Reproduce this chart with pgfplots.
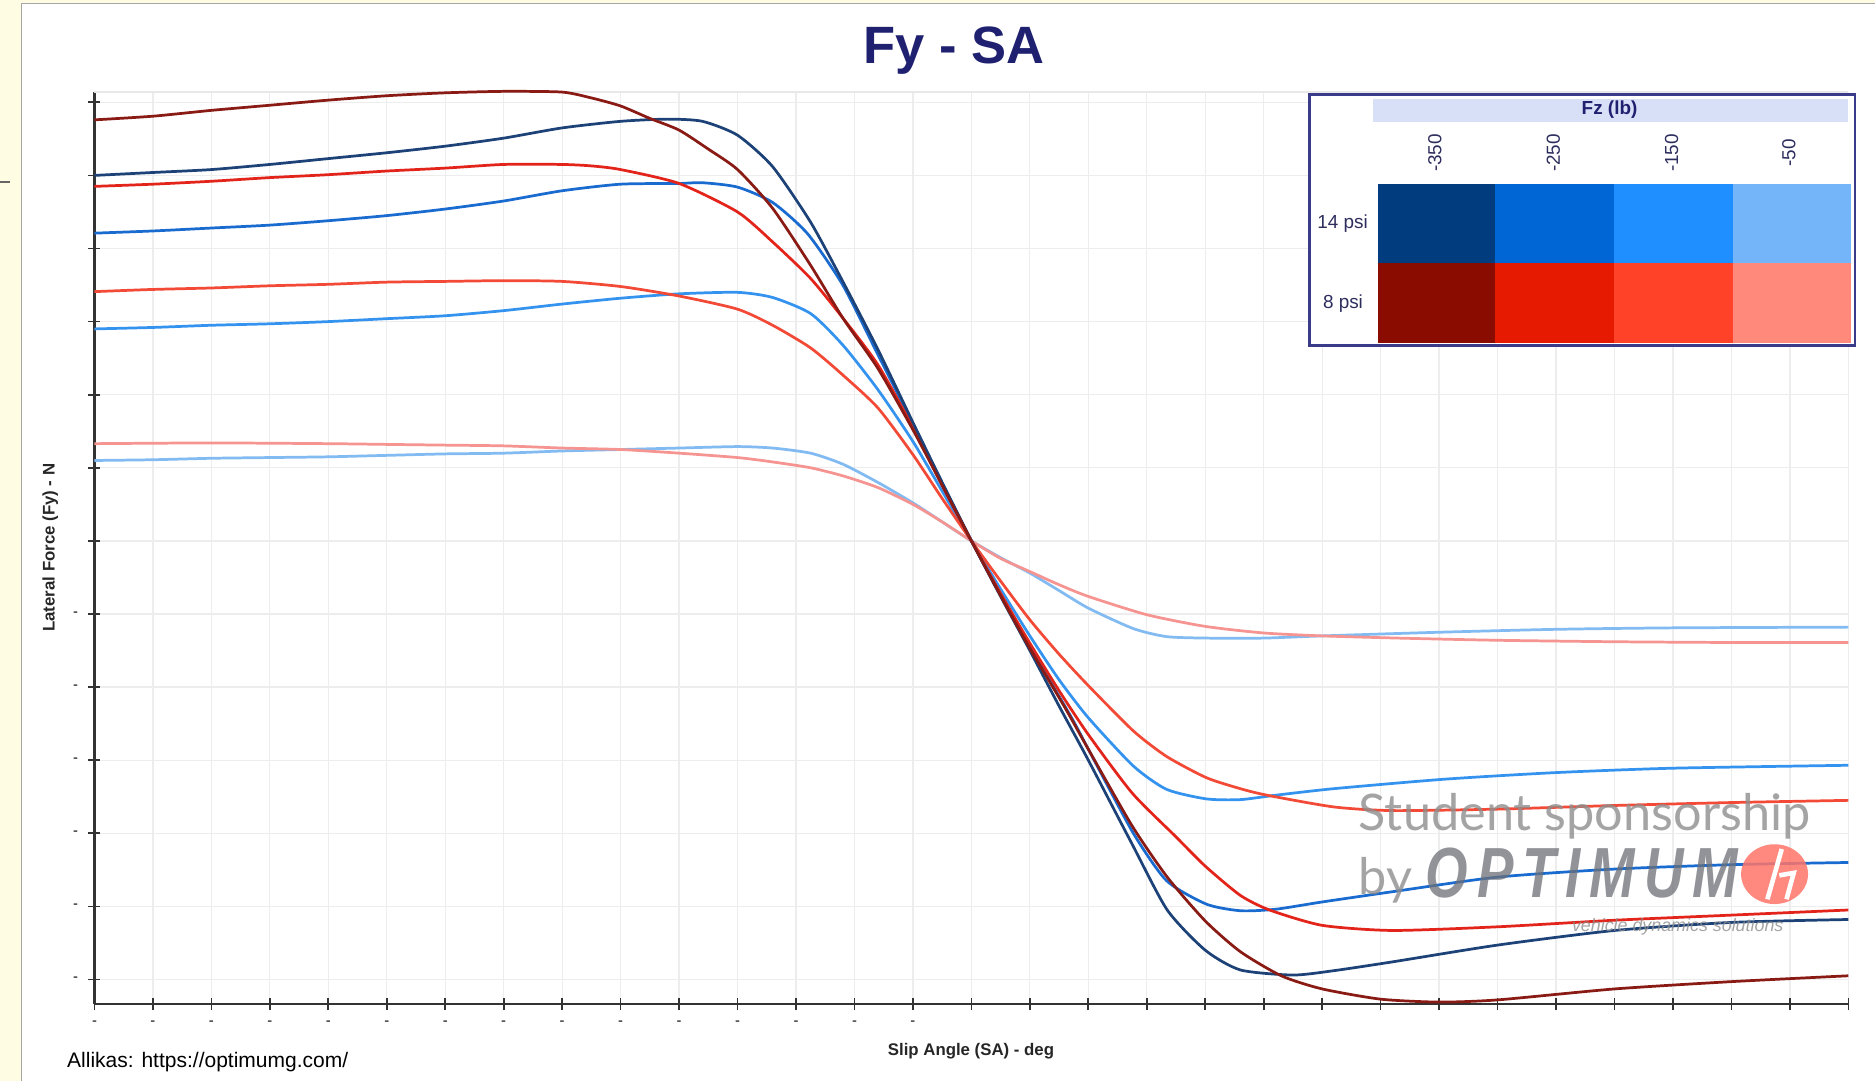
\documentclass[border=0pt]{standalone}
\usepackage{pgfplots}
\pgfplotsset{compat=1.18}
\usepackage{fontspec}
\setmainfont{Liberation Sans}
\newfontfamily\latofont{Lato}
\definecolor{bgyellow}{HTML}{FEFDE4}
\definecolor{titleblue}{HTML}{1F2170}
\definecolor{labelnavy}{HTML}{2E2E5E}
\definecolor{legborder}{HTML}{3B3B8C}
\definecolor{headfill}{HTML}{D8E0F7}
\definecolor{cA}{HTML}{003C7E}
\definecolor{cB}{HTML}{0066D5}
\definecolor{cC}{HTML}{1F8FFF}
\definecolor{cD}{HTML}{73B5F8}
\definecolor{rA}{HTML}{8A0C00}
\definecolor{rB}{HTML}{E61A00}
\definecolor{rC}{HTML}{FF4228}
\definecolor{rD}{HTML}{FF8A7C}
\definecolor{lA}{HTML}{1C4277}
\definecolor{lB}{HTML}{1A6BCF}
\definecolor{lC}{HTML}{3593F0}
\definecolor{lD}{HTML}{82BAF2}
\definecolor{lrA}{HTML}{8A1A14}
\definecolor{lrB}{HTML}{E3241A}
\definecolor{lrC}{HTML}{F24A36}
\definecolor{lrD}{HTML}{F59490}
\definecolor{wmgray}{HTML}{8E8E8E}
\definecolor{wmdark}{HTML}{6E7078}
\begin{document}
\begin{tikzpicture}[x=0.02cm,y=-0.02cm]
\useasboundingbox (0,0) rectangle (1568,904);
\fill[bgyellow] (0,0) rectangle (1568,904);
\fill[white] (18,3) rectangle (1568,904);
\draw[gray!70, line width=0.8pt] (18,904) -- (18,3) -- (1568,3);
\draw[gray!80!black, line width=0.8pt] (0,152) -- (8,152);
\node[font=\bfseries\fontsize{25}{30}\selectfont, text=titleblue] at (798,42) {Fy - SA};
\begin{axis}[
  at={(1.58cm,-16.8cm)}, anchor=south west,
  width=29.34cm, height=15.26cm, scale only axis,
  xmin=-15, xmax=15, ymin=-6.34, ymax=6.14,
  axis x line*=bottom, axis y line*=left,
  axis line style={black!80, line width=1pt},
  xtick={-15,...,15}, ytick={-6,...,6},
  xticklabels={-,-,-,-,-,-,-,-,-,-,-,-,-,-,-,{},{},{},{},{},{},{},{},{},{},{},{},{},{},{},{}},
  yticklabels={-,-,-,-,-,-,{},{},{},{},{},{},{}},
  tick align=center, major tick length=0.2cm,
  tick style={black!80, line width=0.8pt},
  xticklabel style={font=\scriptsize, yshift=-0.05cm},
  yticklabel style={font=\scriptsize, xshift=-0.05cm},
  grid=major, grid style={gray!14, line width=0.6pt},
  clip=false,
  every axis plot/.append style={line width=1.3pt, smooth, tension=0.4, mark=none},
]
\draw[gray!18, line width=0.6pt] (rel axis cs:0,1) -- (rel axis cs:1,1);
% 14 psi, Fz = -50
\addplot[lD] coordinates {(-15,1.10)(-14,1.11)(-13,1.13)(-12,1.14)(-11,1.15)(-10,1.17)(-9,1.19)(-8,1.20)(-7,1.23)(-6,1.25)(-5,1.27)(-4,1.29)(-3.4,1.27)(-2.75,1.20)(-2.2,1.05)(-1.6,0.80)(-1,0.52)(-0.5,0.26)(0,0)(0.5,-0.23)(1,-0.44)(1.5,-0.68)(2,-0.92)(2.77,-1.20)(3.34,-1.31)(4.02,-1.33)(5,-1.33)(6,-1.30)(8,-1.25)(10,-1.21)(12,-1.19)(15,-1.18)};
% 8 psi, Fz = -50
\addplot[lrD] coordinates {(-15,1.33)(-13,1.34)(-11,1.33)(-10,1.32)(-9,1.31)(-8,1.30)(-7,1.27)(-6,1.25)(-5,1.20)(-4,1.14)(-3.4,1.08)(-2.75,1.00)(-2.2,0.89)(-1.6,0.73)(-1,0.50)(-0.5,0.26)(0,0)(0.5,-0.24)(1,-0.42)(1.5,-0.60)(2,-0.76)(3,-1.01)(4,-1.17)(5,-1.26)(6,-1.30)(7.3,-1.33)(9,-1.36)(11,-1.38)(13,-1.39)(15,-1.39)};
% 14 psi, Fz = -150
\addplot[lC] coordinates {(-15,2.90)(-14,2.92)(-13,2.95)(-12,2.97)(-11,3.00)(-10,3.04)(-9,3.08)(-8,3.15)(-7,3.24)(-6,3.32)(-5,3.38)(-4,3.40)(-3.4,3.33)(-2.75,3.11)(-2.2,2.68)(-1.6,2.07)(-1,1.36)(-0.5,0.68)(0,0)(0.5,-0.66)(1,-1.30)(1.5,-1.90)(2,-2.42)(2.77,-3.08)(3.34,-3.40)(4.02,-3.53)(4.6,-3.54)(5.2,-3.48)(6.2,-3.39)(8.1,-3.26)(10,-3.17)(12,-3.11)(15,-3.07)};
% 8 psi, Fz = -150
\addplot[lrC] coordinates {(-15,3.41)(-14,3.44)(-13,3.46)(-12,3.49)(-11,3.51)(-10,3.54)(-9,3.55)(-8,3.56)(-7,3.55)(-6,3.48)(-5,3.35)(-4,3.17)(-3.4,2.95)(-2.75,2.64)(-2.2,2.27)(-1.6,1.82)(-1,1.18)(-0.5,0.58)(0,0)(0.5,-0.55)(1,-1.08)(1.5,-1.55)(2,-1.98)(2.77,-2.60)(3.34,-2.95)(4.02,-3.24)(4.6,-3.39)(5.06,-3.48)(6.2,-3.64)(7.2,-3.69)(9,-3.67)(11,-3.62)(13,-3.58)(15,-3.55)};
% 14 psi, Fz = -250
\addplot[lB] coordinates {(-15,4.21)(-14,4.24)(-13,4.28)(-12,4.32)(-11,4.38)(-10,4.45)(-9,4.54)(-8,4.65)(-7,4.79)(-6,4.88)(-5,4.89)(-4.6,4.90)(-4,4.84)(-3.4,4.63)(-2.8,4.20)(-2.2,3.50)(-1.6,2.55)(-1,1.60)(-0.5,0.79)(0,0)(0.5,-0.74)(1,-1.45)(1.7,-2.40)(2,-2.85)(2.77,-4.00)(3.34,-4.65)(4.02,-4.97)(4.6,-5.06)(5.2,-5.04)(6,-4.94)(7.2,-4.80)(9,-4.60)(11,-4.49)(13,-4.43)(15,-4.40)};
% 8 psi, Fz = -250
\addplot[lrB] coordinates {(-15,4.85)(-14,4.88)(-13,4.92)(-12,4.97)(-11,5.01)(-10,5.06)(-9,5.10)(-8,5.15)(-7,5.15)(-6.5,5.13)(-6,5.08)(-5,4.89)(-4,4.50)(-3.4,4.09)(-2.75,3.59)(-2.2,3.05)(-1.6,2.41)(-1,1.55)(-0.5,0.76)(0,0)(0.5,-0.72)(1,-1.40)(1.5,-2.05)(2,-2.65)(2.75,-3.45)(3.5,-4.05)(4,-4.45)(4.6,-4.85)(5.1,-5.05)(6,-5.26)(7.2,-5.33)(9,-5.28)(11,-5.19)(13,-5.12)(15,-5.05)};
% 14 psi, Fz = -350
\addplot[lA] coordinates {(-15,5.00)(-14,5.04)(-13,5.08)(-12,5.15)(-11,5.23)(-10,5.31)(-9,5.40)(-8,5.51)(-7,5.65)(-6,5.74)(-5.2,5.77)(-4.6,5.74)(-4,5.55)(-3.4,5.12)(-2.75,4.36)(-2.2,3.55)(-1.6,2.62)(-1,1.62)(-0.5,0.80)(0,0)(0.5,-0.76)(1,-1.50)(1.5,-2.26)(2,-3.00)(2.75,-4.15)(3.35,-5.05)(4,-5.60)(4.6,-5.87)(5.5,-5.94)(6.2,-5.88)(7.2,-5.76)(9,-5.53)(11,-5.33)(13,-5.22)(15,-5.18)};
% 8 psi, Fz = -350
\addplot[lrA] coordinates {(-15,5.76)(-14,5.81)(-13,5.89)(-12,5.96)(-11,6.03)(-10,6.09)(-9,6.13)(-8,6.15)(-7,6.14)(-6.5,6.06)(-6,5.95)(-5.5,5.78)(-5,5.62)(-4.5,5.36)(-4,5.08)(-3.4,4.55)(-2.75,3.77)(-2.2,3.05)(-1.6,2.36)(-1,1.52)(-0.5,0.76)(0,0)(0.5,-0.75)(1,-1.47)(1.6,-2.28)(2,-2.85)(2.75,-3.90)(3.35,-4.60)(4,-5.20)(4.6,-5.62)(5.3,-5.95)(6,-6.13)(7,-6.27)(8,-6.31)(9,-6.28)(11,-6.13)(13,-6.03)(15,-5.95)};
\end{axis}
% axis titles
\node[font=\bfseries\fontsize{8}{10}\selectfont, text=black!85] at (812,879) {Slip Angle (SA) - deg};
\node[font=\bfseries\fontsize{8}{10}\selectfont, text=black!85, rotate=90] at (42,458) {Lateral Force (Fy) - N};
\node[anchor=west, font=\fontsize{10}{12}\selectfont, text=black] at (50,888) {Allikas: https://optimumg.com/};
% watermark
\node[anchor=west, text=wmgray, font=\latofont\fontsize{24}{27}\selectfont, opacity=0.8] at (1130,683) {Student sponsorship};
\node[anchor=west, text=wmgray, font=\latofont\fontsize{24}{27}\selectfont, opacity=0.8] at (1130,736) {by};
\node[anchor=west, inner sep=0pt, text=wmdark, font=\bfseries\itshape\fontsize{26}{30}\selectfont, opacity=0.75] at (1192,730) {\scalebox{1}[1.3]{O\,P\,T\,I\,M\,U\,M}};
\fill[rD!85!red, opacity=0.85] (1484,731) ellipse [x radius=0.56cm, y radius=0.5cm];
\draw[white, line width=2.2pt] (1478,752) -- (1490,710);
\draw[white, line width=2.2pt] (1488,732) -- (1500,730) -- (1494,752);
\node[inner sep=0pt, text=wmgray, font=\itshape\fontsize{8.5}{10}\selectfont, opacity=0.8] at (1403,775) {vehicle dynamics solutions};
% legend
\draw[legborder, line width=1.1pt, fill=white] (1095,79) rectangle (1551,289);
\fill[headfill] (1148,83) rectangle (1545,102);
\node[font=\bfseries\fontsize{9}{10}\selectfont, text=titleblue] at (1346,92) {Fz (lb)};
\node[rotate=90, font=\fontsize{9}{10}\selectfont, text=labelnavy] at (1200,128) {-350};
\node[rotate=90, font=\fontsize{9}{10}\selectfont, text=labelnavy] at (1299,128) {-250};
\node[rotate=90, font=\fontsize{9}{10}\selectfont, text=labelnavy] at (1398,128) {-150};
\node[rotate=90, font=\fontsize{9}{10}\selectfont, text=labelnavy] at (1496,128) {-50};
\fill[cA] (1152,154) rectangle (1250,220);
\fill[cB] (1250,154) rectangle (1350,220);
\fill[cC] (1350,154) rectangle (1449,220);
\fill[cD] (1449,154) rectangle (1548,220);
\fill[rA] (1152,220) rectangle (1250,287);
\fill[rB] (1250,220) rectangle (1350,287);
\fill[rC] (1350,220) rectangle (1449,287);
\fill[rD] (1449,220) rectangle (1548,287);
\node[anchor=east, font=\fontsize{9}{10}\selectfont, text=labelnavy] at (1150,187) {14 psi};
\node[anchor=east, font=\fontsize{9}{10}\selectfont, text=labelnavy] at (1146,254) {8 psi};
\end{tikzpicture}
\end{document}
